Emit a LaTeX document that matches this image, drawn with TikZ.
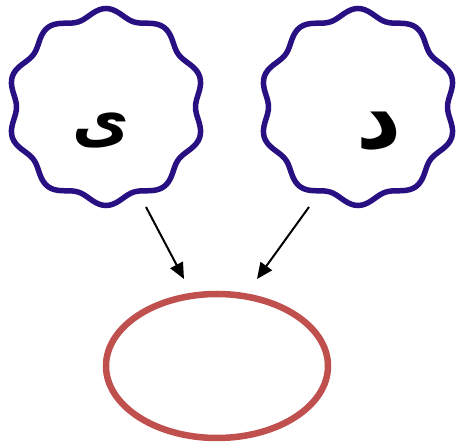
\documentclass[tikz,border=0pt]{standalone}
\usepackage{fontspec}
\newfontfamily\arabicfont[Script=Arabic]{DejaVu Sans}
\TeXXeTstate=1
\usetikzlibrary{shapes.geometric,arrows.meta}
\begin{document}
\begin{tikzpicture}[x=1pt,y=1pt,
  wavy/.style={draw={rgb,255:red,40;green,16;blue,130}, line width=5.5pt},
  letter/.style={font=\arabicfont\bfseries, inner sep=0pt},
  link/.style={-{Triangle[length=16pt,width=14pt]}, line width=2pt},
  oval/.style={ellipse, draw={rgb,255:red,192;green,80;blue,77}, line width=6.5pt, minimum width=222pt, minimum height=144pt}]
\useasboundingbox (0,0) rectangle (462,443);
% wavy circles
\foreach \cx/\cy in {106/336, 358/336}{
  \draw[wavy, variable=\t, domain=0:360, samples=181, smooth]
    plot ({\cx+(94+4.5*sin(10*\t-90))*cos(\t)},{\cy+(94+4.5*sin(10*\t-90))*sin(\t)}) -- cycle;
}
\node[circle, minimum size=196pt, inner sep=0pt] (L) at (106,336) {};
\node[circle, minimum size=196pt, inner sep=0pt] (R) at (358,336) {};
\node[letter, font=\arabicfont\bfseries\fontsize{62}{70}\selectfont] (ya) at (101,312) {\beginR ی\endR};
\node[letter, font=\arabicfont\bfseries\fontsize{88}{96}\selectfont] (dal) at (379,312) {\beginR د\endR};
\node[oval] (E) at (217,77) {};
\coordinate (a1) at (146,236);
\coordinate (b1) at (184,164);
\coordinate (a2) at (309,236);
\coordinate (b2) at (257,164);
\draw[link] (a1) -- (b1);
\draw[link] (a2) -- (b2);
\end{tikzpicture}
\end{document}
